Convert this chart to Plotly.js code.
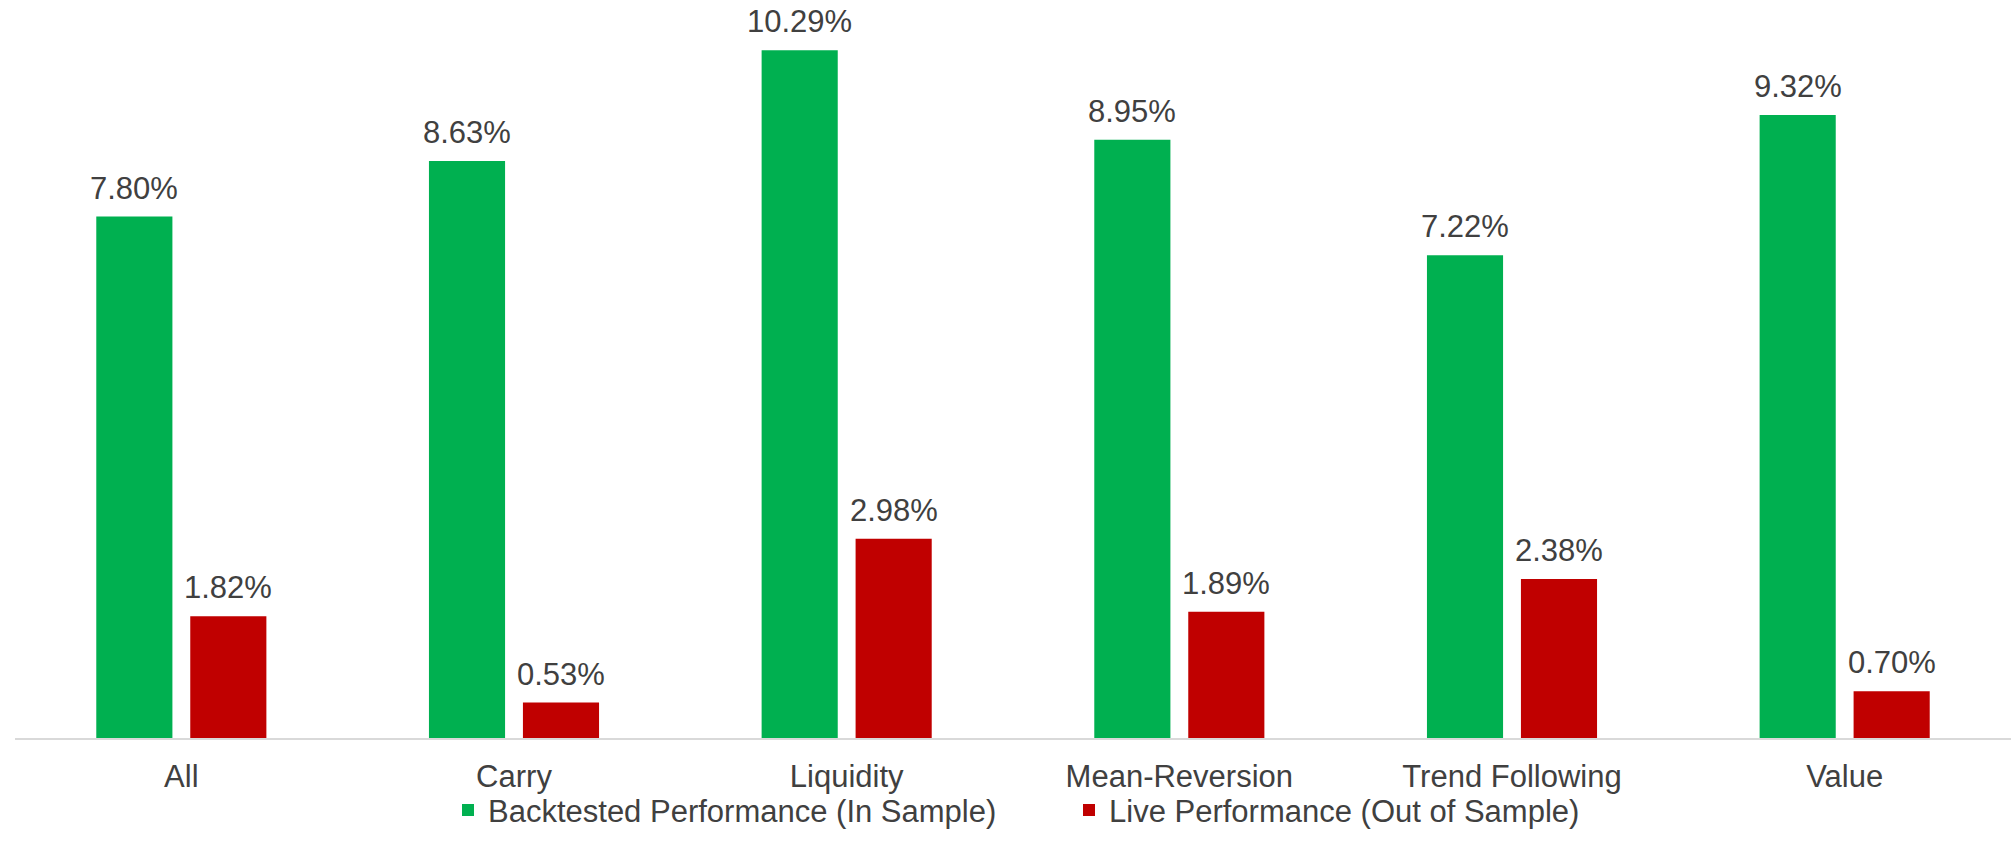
<!DOCTYPE html>
<html>
<head>
<meta charset="utf-8">
<script src="https://cdn.plot.ly/plotly-3.0.1.min.js"></script>
<style>html,body{margin:0;padding:0;background:#fff;}#chart{width:2011px;height:854px;}</style>
</head>
<body>
<div id="chart"></div>
<script>
const categories = ["All", "Carry", "Liquidity", "Mean-Reversion", "Trend Following", "Value"];
const backtested = [7.80, 8.63, 10.29, 8.95, 7.22, 9.32];
const live = [1.82, 0.53, 2.98, 1.89, 2.38, 0.70];
const seriesNames = ["Backtested Performance (In Sample)", "Live Performance (Out of Sample)"];

const labelFont = {family: "Liberation Sans, Arial, sans-serif", size: 31, color: "#404040"};

const traces = [
  {type: "bar", x: categories, y: backtested, name: seriesNames[0],
   marker: {color: "#00B050"}, hoverinfo: "none"},
  {type: "bar", x: categories, y: live, name: seriesNames[1],
   marker: {color: "#C00000"}, hoverinfo: "none"}
];

const slotShift = 47;
const annotations = [];
[backtested, live].forEach(function (vals, si) {
  vals.forEach(function (v, i) {
    annotations.push({
      x: categories[i], y: v, xref: "x", yref: "y",
      text: v.toFixed(2) + "%", showarrow: false,
      xanchor: "center", yanchor: "bottom",
      xshift: si === 0 ? -slotShift : slotShift, yshift: 9,
      font: labelFont
    });
  });
});

const layout = {
  width: 2011, height: 854,
  margin: {l: 15, r: 0, t: 0, b: 116},
  paper_bgcolor: "#ffffff", plot_bgcolor: "#ffffff",
  barmode: "group", bargap: 0.435, bargroupgap: 0.19,
  font: labelFont,
  showlegend: true,
  annotations: annotations,
  legend: {orientation: "h", x: (448 - 15) / 1996, xanchor: "left", y: -0.098, yanchor: "middle",
           entrywidthmode: "pixels", entrywidth: 576,
           font: labelFont, bgcolor: "rgba(0,0,0,0)", borderwidth: 0},
  xaxis: {showline: true, linecolor: "#d9d9d9", linewidth: 2, ticks: "", showgrid: false,
          zeroline: false, tickfont: labelFont, ticklabelstandoff: 10, fixedrange: true},
  yaxis: {visible: false, range: [0, 11.04], showgrid: false, zeroline: false, fixedrange: true}
};

Plotly.newPlot("chart", traces, layout, {displayModeBar: false, staticPlot: true});
</script>
</body>
</html>
